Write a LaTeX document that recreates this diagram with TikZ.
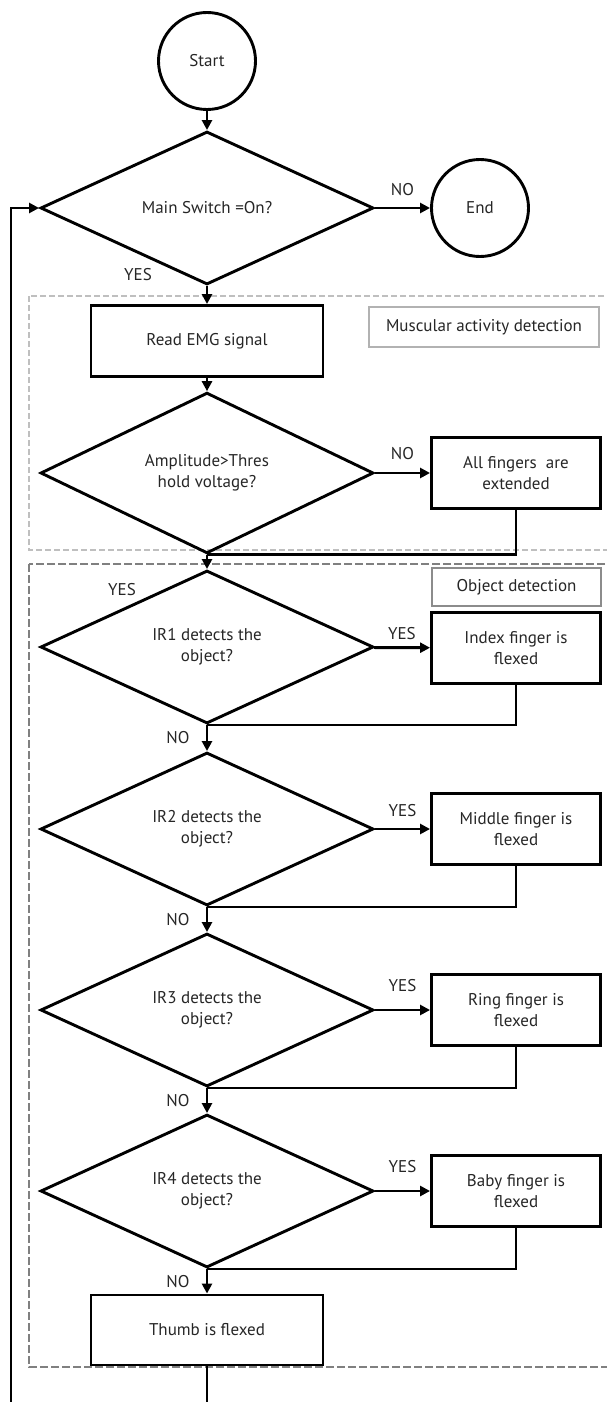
\documentclass[tikz,border=0pt]{standalone}
\usepackage{fontspec}
\setmainfont{PT Sans}
\usetikzlibrary{shapes.geometric,arrows.meta}

\begin{document}
\begin{tikzpicture}[x=1pt, y=-1pt, font=\fontsize{17}{21}\selectfont]
    \tikzset{
        flow line/.style={line width=2.9pt, line join=miter},
        flow arrow/.style={flow line, -{Triangle[length=10pt, width=10pt]}},
        terminal/.style={circle, draw, flow line, minimum size=97pt,
            inner sep=0pt, text=black!85},
        decision/.style={diamond, draw, flow line, minimum width=333pt,
            minimum height=153pt, inner sep=0pt, align=center, text=black!85},
        process/.style={rectangle, draw, flow line, minimum width=232pt,
            minimum height=71pt, align=center, text=black!85},
        action/.style={rectangle, draw, flow line, minimum width=169pt,
            minimum height=71pt, align=center, text=black!85},
        branch label/.style={text=black!85, inner sep=0pt},
        group label/.style={rectangle, draw=black!30, line width=2pt,
            fill=white, text=black!85},
        emg group/.style={draw=black!25, line width=2pt,
            dash pattern=on 6pt off 3pt},
        object group/.style={draw=black!50, line width=2.5pt,
            dash pattern=on 8pt off 3pt},
    }
    \clip (0,0) rectangle (607,1402);

    % the two dashed groups, drawn first so they lie behind the chart
    \draw[emg group] (29,296) rectangle (625,550);
    \draw[object group] (29,564) rectangle (625,1367);
    \node[group label, minimum width=230pt, minimum height=40pt]
        (emg label) at (484,327) {Muscular activity detection};
    \node[group label, draw=black!45, minimum width=169pt, minimum height=38pt]
        (object label) at (516.5,587) {Object detection};

    % main switch
    \node[terminal] (start) at (207,61) {Start};
    \node[decision] (switch) at (207,208) {Main Switch =On?};
    \node[terminal] (end) at (480,208) {End};

    % muscular activity detection
    \node[process] (read emg) at (207,341) {Read EMG signal};
    \node[decision] (amplitude) at (207,473) {Amplitude>Thres\\hold voltage?};
    \node[action] (extended) at (516,473) {All fingers\ \ are\\extended};

    % object detection, one infrared sensor per finger
    \node[decision] (ir1) at (207,647) {IR1 detects the\\object?};
    \node[action] (index) at (516,648) {Index finger is\\flexed};
    \node[decision] (ir2) at (207,829) {IR2 detects the\\object?};
    \node[action] (middle) at (516,829) {Middle finger is\\flexed};
    \node[decision] (ir3) at (207,1010) {IR3 detects the\\object?};
    \node[action] (ring) at (516,1010) {Ring finger is\\flexed};
    \node[decision] (ir4) at (207,1191) {IR4 detects the\\object?};
    \node[action] (baby) at (516,1191) {Baby finger is\\flexed};
    \node[process, minimum height=70pt] (thumb) at (207,1330) {Thumb is flexed};

    % connectors
    \draw[flow arrow] (start) -- (switch);
    \draw[flow arrow] (switch) -- node[branch label, above=11pt] {NO} (end);
    \draw[flow arrow] (switch) -- (read emg);
    \node[branch label] (switch yes) at (138,275) {YES};
    \draw[flow arrow] (read emg) -- (amplitude);
    \draw[flow arrow] (amplitude) -- node[branch label, above=12pt] {NO} (extended);
    \draw[flow line] (extended.south) |- (amplitude.south);
    \draw[flow arrow] (amplitude) -- (ir1);
    \node[branch label] (amplitude yes) at (122,590) {YES};

    \draw[flow arrow] (ir1) -- node[branch label, above=6pt] {YES} (index);
    \draw[flow line] (index.south) |- (ir1.south);
    \draw[flow arrow] (ir1) -- node[branch label, left=16pt] {NO} (ir2);
    \draw[flow arrow] (ir2) -- node[branch label, above=11pt] {YES} (middle);
    \draw[flow line] (middle.south) |- (ir2.south);
    \draw[flow arrow] (ir2) -- node[branch label, left=16pt] {NO} (ir3);
    \draw[flow arrow] (ir3) -- node[branch label, above=17pt] {YES} (ring);
    \draw[flow line] (ring.south) |- (ir3.south);
    \draw[flow arrow] (ir3) -- node[branch label, left=16pt] {NO} (ir4);
    \draw[flow arrow] (ir4) -- node[branch label, above=17pt] {YES} (baby);
    \draw[flow line] (baby.south) |- (ir4.south);
    \draw[flow arrow] (ir4) -- node[branch label, left=16pt] {NO} (thumb);

    % back to the main switch (the lower turn falls outside the page)
    \coordinate (loop back) at (11,1440);
    \draw[flow arrow] (thumb.south) |- (loop back) |- (switch.west);
\end{tikzpicture}
\end{document}
